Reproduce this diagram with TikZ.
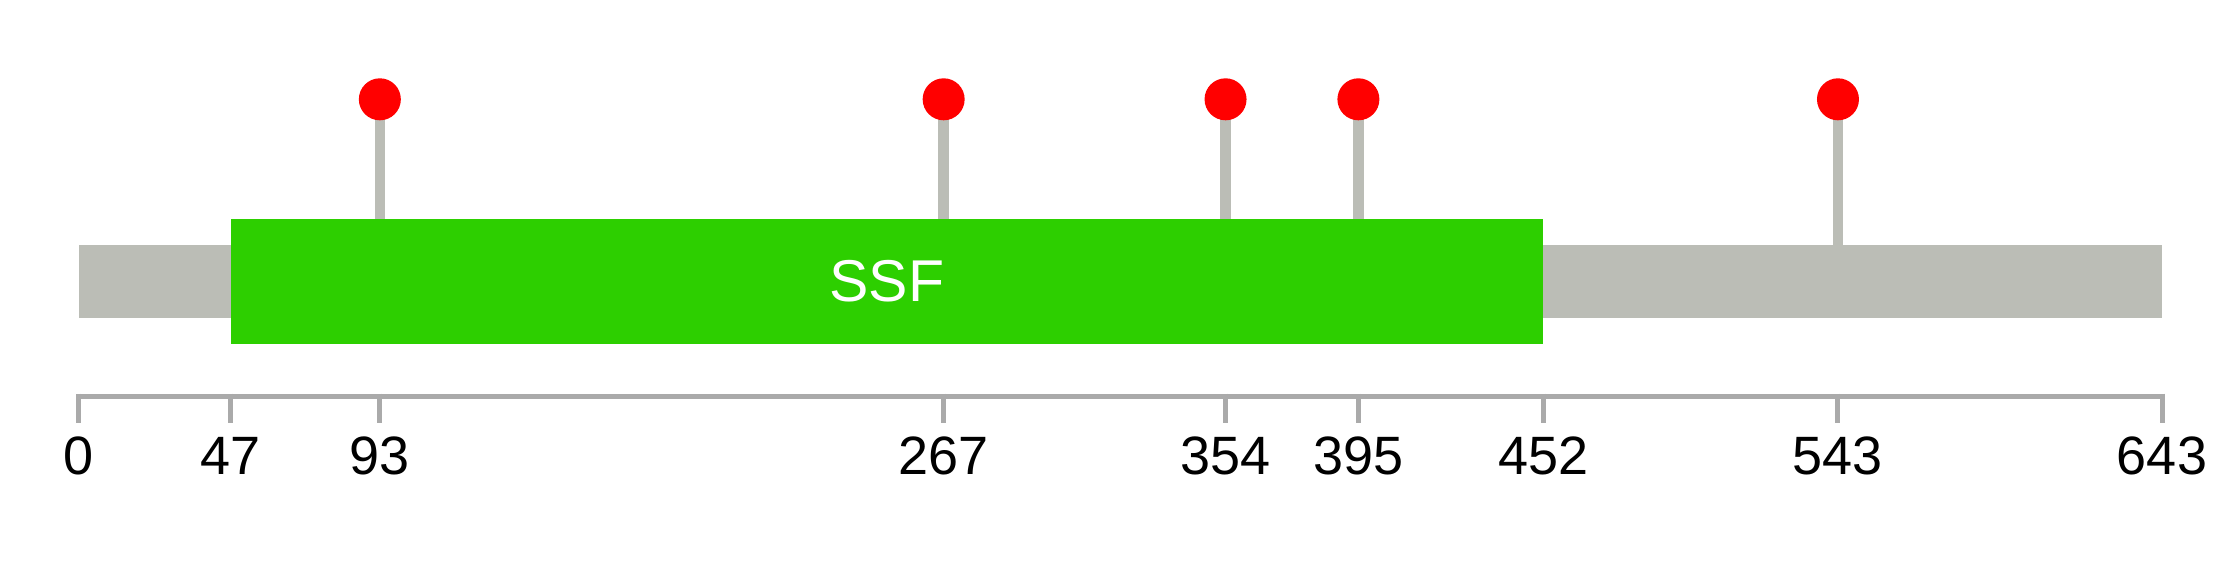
\documentclass[tikz,border=0pt]{standalone}
\usepackage{fontspec}
\setmainfont{Liberation Sans}
\definecolor{bbgray}{HTML}{BBBDB6}
\definecolor{domgreen}{HTML}{2DCF00}
\definecolor{axgray}{HTML}{AAAAAA}
\definecolor{lolred}{HTML}{FF0000}
\tikzset{
  lolli/.style={circle, fill=lolred, draw=none, minimum size=42pt, inner sep=0pt},
  stem/.style={draw=bbgray, line width=10.5pt},
  axline/.style={draw=axgray, line width=5pt},
  ticklabel/.style={font=\fontsize{54}{54}\selectfont, text=black, inner sep=0pt, anchor=center},
}
\begin{document}
\begin{tikzpicture}[x=1pt,y=-1pt]
\useasboundingbox (0,0) rectangle (2239,578);
\pgfmathsetmacro{\u}{(2162-78.5)/643}
% stems
\foreach \p/\e in {93/219,267/219,354/219,395/219,543/245}{
  \draw[stem] ({78.5+\p*\u},99.3) -- ({78.5+\p*\u},\e);
}
% backbone
\fill[bbgray] (78.5,245) rectangle (2162,318.3);
% domain
\fill[domgreen] ({78.5+47*\u},219) rectangle ({78.5+452*\u},344.3);
\node[text=white, font=\fontsize{59}{59}\selectfont, inner sep=0pt] (ssf) at ({78.5+249.5*\u},281) {SSF};
% lollipop heads
\foreach \p in {93,267,354,395,543}{
  \node[lolli] (l\p) at ({78.5+\p*\u},99.3) {};
}
% axis
\draw[axline, line cap=butt] (78.5,396) -- (2162,396);
\foreach \p in {0,47,93,267,354,395,452,543,643}{
  \draw[axline] ({78.5+\p*\u},393.5) -- ({78.5+\p*\u},422.7);
  \node[ticklabel] (t\p) at ({78.5+\p*\u},456) {\p};
}
\end{tikzpicture}
\end{document}
